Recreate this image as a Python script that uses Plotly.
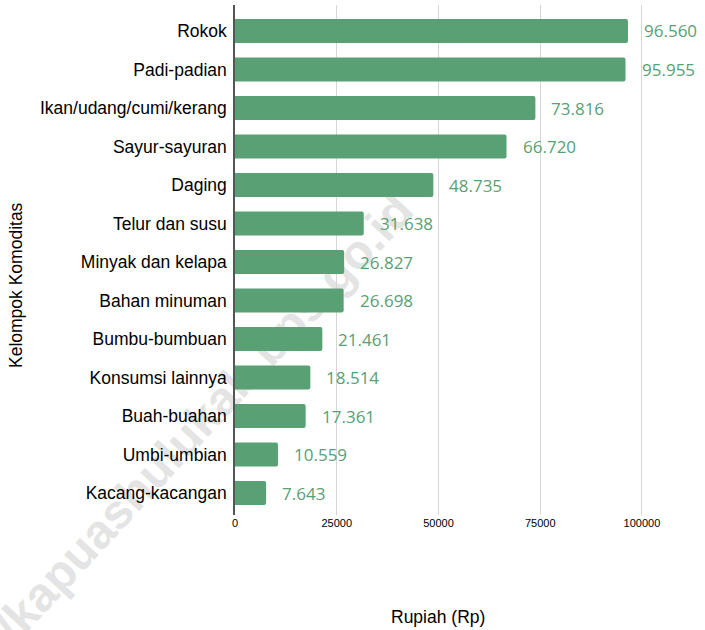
import plotly.graph_objects as go

categories = ["Rokok", "Padi-padian", "Ikan/udang/cumi/kerang", "Sayur-sayuran", "Daging",
              "Telur dan susu", "Minyak dan kelapa", "Bahan minuman", "Bumbu-bumbuan",
              "Konsumsi lainnya", "Buah-buahan", "Umbi-umbian", "Kacang-kacangan"]
values = [96560, 95955, 73816, 66720, 48735, 31638, 26827, 26698, 21461, 18514, 17361, 10559, 7643]
value_labels = ["96.560", "95.955", "73.816", "66.720", "48.735", "31.638", "26.827", "26.698",
                "21.461", "18.514", "17.361", "10.559", "7.643"]
x_ticks = [0, 25000, 50000, 75000, 100000]

green = "#59a074"
L, R, T, B = 235, 703, 5, 515
W, H = R - L, B - T


def px(x):
    return (x - L) / W


def py(y):
    return (B - y) / H


fig = go.Figure()
fig.add_trace(go.Bar(
    y=categories, x=values, orientation="h",
    marker=dict(color=green, line=dict(width=0), cornerradius=2),
    width=0.62, hoverinfo="skip",
))

for c, v, t in zip(categories, values, value_labels):
    fig.add_annotation(x=v, y=c, text=t, showarrow=False, xanchor="left", yanchor="middle", xshift=14,
                       font=dict(family="Open Sans", size=17, color=green))

fig.add_annotation(xref="paper", yref="paper", x=px(438), y=py(617), xanchor="center", yanchor="middle",
                   text="Rupiah (Rp)", showarrow=False,
                   font=dict(family="Liberation Sans", size=17.5, color="#000"))
fig.add_annotation(xref="paper", yref="paper", x=px(16), y=py(285), xanchor="center", yanchor="middle",
                   text="Kelompok Komoditas", showarrow=False, textangle=-90,
                   font=dict(family="Liberation Sans", size=17.5, color="#000"))

# watermark, drawn beneath the bars
fig.add_shape(type="line", xref="paper", yref="paper", layer="below",
              x0=px(0), y0=py(630), x1=px(400), y1=py(198),
              line=dict(width=0, color="rgba(0,0,0,0)"),
              label=dict(text="/kapuashulukab.bps.go.id", textposition="middle", yanchor="middle",
                         font=dict(family="Liberation Sans", size=48, color="#e4e4e4", weight="bold")))

fig.update_layout(
    width=705, height=630,
    margin=dict(l=L, r=705 - R, t=T, b=630 - B, autoexpand=False),
    paper_bgcolor="white", plot_bgcolor="rgba(0,0,0,0)",
    showlegend=False,
    font=dict(family="Liberation Sans", color="#000"),
    xaxis=dict(range=[0, 115000], tickvals=x_ticks, ticktext=[str(v) for v in x_ticks],
               showgrid=True, gridcolor="#d6d6d6", gridwidth=1, zeroline=False,
               showline=False, tickfont=dict(size=11, color="#000"), ticks=""),
    yaxis=dict(categoryorder="array", categoryarray=categories, range=[12.57, -0.675],
               showline=True, linecolor="#555", linewidth=1.5, showgrid=False,
               tickfont=dict(size=17.5, color="#000"), ticks="", ticklabelstandoff=3),
)

fig.write_html("out.html", config={"displayModeBar": False},
               post_script="document.body.style.margin='0';")
